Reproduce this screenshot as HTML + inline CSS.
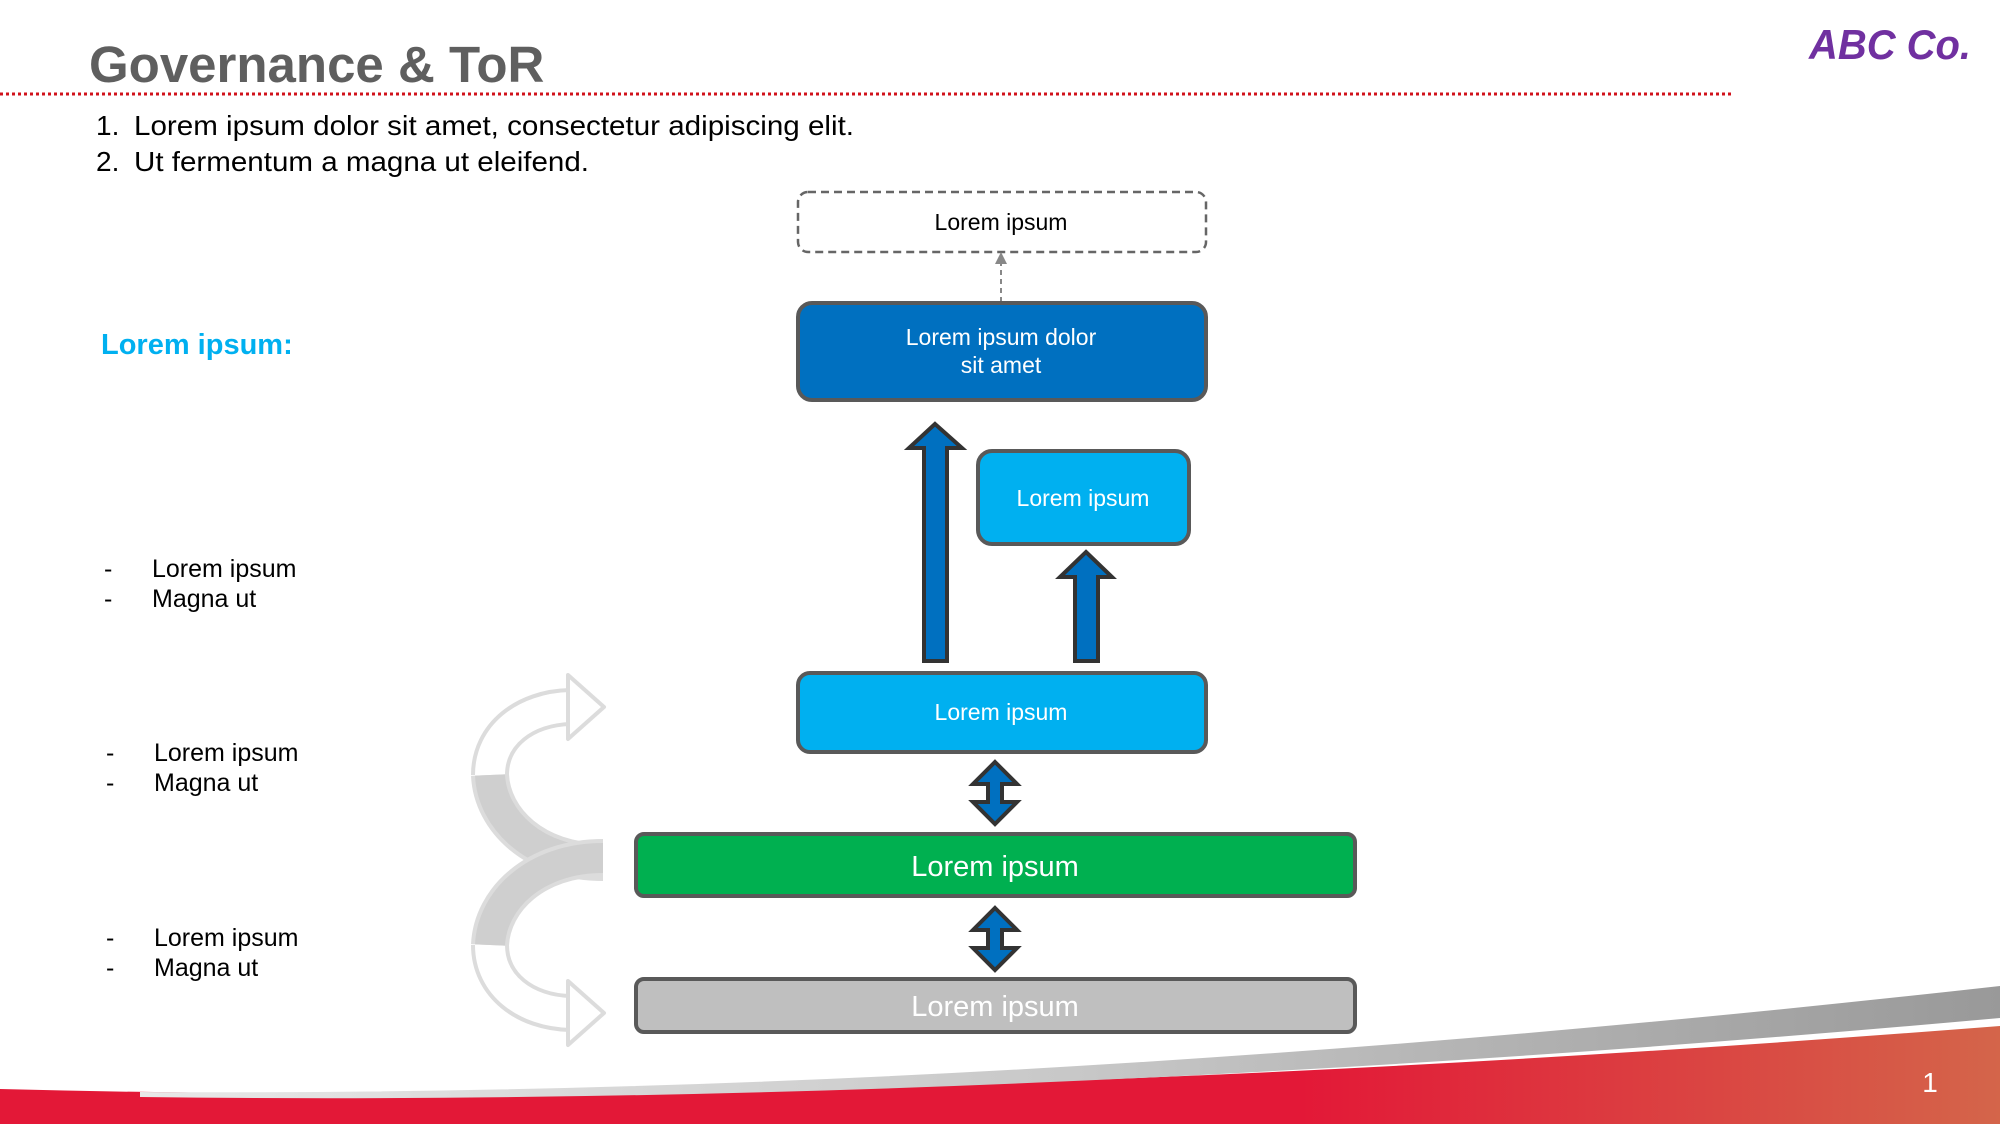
<!DOCTYPE html>
<html><head><meta charset="utf-8"><style>
html,body{margin:0;padding:0;background:#fff;}
svg{display:block;}
text{font-family:"Liberation Sans",Arial,sans-serif;}
</style></head><body>
<svg width="2000" height="1124" viewBox="0 0 2000 1124" xmlns="http://www.w3.org/2000/svg">
<defs>
<linearGradient id="rg" x1="0" x2="1" y1="0" y2="0">
<stop offset="0" stop-color="#e31837"/><stop offset="0.65" stop-color="#e31837"/><stop offset="1" stop-color="#d4654a"/>
</linearGradient>
<linearGradient id="gg" x1="0" x2="1" y1="0" y2="0">
<stop offset="0" stop-color="#e8e8e8"/><stop offset="0.5" stop-color="#c8c8c8"/><stop offset="1" stop-color="#999"/>
</linearGradient>
</defs>
<text x="89" y="82" font-size="51" font-weight="bold" fill="#5f5f5f">Governance &amp; ToR</text>
<line x1="0" y1="94" x2="1731" y2="94" stroke="#d0121b" stroke-width="3" stroke-dasharray="3,3"/>
<text x="1971" y="59" font-size="42" font-weight="bold" font-style="italic" fill="#7030a0" text-anchor="end" textLength="162" lengthAdjust="spacingAndGlyphs">ABC Co.</text>
<text x="96" y="135" font-size="28" fill="#000">1.</text>
<text x="134" y="135" font-size="28" fill="#000" textLength="720" lengthAdjust="spacingAndGlyphs">Lorem ipsum dolor sit amet, consectetur adipiscing elit.</text>
<text x="96" y="171" font-size="28" fill="#000">2.</text>
<text x="134" y="171" font-size="28" fill="#000" textLength="455" lengthAdjust="spacingAndGlyphs">Ut fermentum a magna ut eleifend.</text>
<text x="101" y="354" font-size="29" font-weight="bold" fill="#00b0f0">Lorem ipsum:</text>
<g font-size="25" fill="#000">
<text x="104" y="577">-</text><text x="152" y="577">Lorem ipsum</text>
<text x="104" y="607">-</text><text x="152" y="607">Magna ut</text>
<text x="106" y="761">-</text><text x="154" y="761">Lorem ipsum</text>
<text x="106" y="791">-</text><text x="154" y="791">Magna ut</text>
<text x="106" y="946">-</text><text x="154" y="946">Lorem ipsum</text>
<text x="106" y="976">-</text><text x="154" y="976">Magna ut</text>
</g>
<path d="M0,1089 Q900,1112 2000,1026 L2000,1124 L0,1124 Z" fill="url(#rg)"/>
<path d="M140,1092 Q1000,1098 2000,986 L2000,1018 Q1000,1108 140,1097 Z" fill="url(#gg)"/>
<text x="1930" y="1092" font-size="28" fill="#fff" text-anchor="middle">1</text>
<g fill="none" stroke-linecap="butt">
<path d="M490,775 C490,735 525,708 570,707" stroke="#dcdcdc" stroke-width="38"/>
<path d="M490,775 C490,735 525,708 571,707" stroke="#fff" stroke-width="30"/>
<path d="M490,945 C490,985 525,1012 570,1013" stroke="#dcdcdc" stroke-width="38"/>
<path d="M490,945 C490,985 525,1012 571,1013" stroke="#fff" stroke-width="30"/>
<path d="M603,862 C535,862 492,820 490,775" stroke="#dcdcdc" stroke-width="38"/>
<path d="M603,862 C535,862 492,820 490,775" stroke="#cfcfcf" stroke-width="30"/>
<path d="M603,858 C535,858 492,900 490,945" stroke="#dcdcdc" stroke-width="38"/>
<path d="M603,858 C535,858 492,900 490,945" stroke="#cfcfcf" stroke-width="30"/>
</g>
<polygon points="568,675 604,707 568,739" fill="#fff" stroke="#dcdcdc" stroke-width="4" stroke-linejoin="round"/>
<polygon points="568,981 604,1013 568,1045" fill="#fff" stroke="#dcdcdc" stroke-width="4" stroke-linejoin="round"/>
<rect x="798" y="192" width="408" height="60" rx="10" fill="#fff" stroke="#666" stroke-width="2.5" stroke-dasharray="8,5"/>
<text x="1001" y="230" font-size="23" fill="#000" text-anchor="middle">Lorem ipsum</text>
<line x1="1001" y1="302" x2="1001" y2="262" stroke="#888" stroke-width="2" stroke-dasharray="5,4"/>
<polygon points="995,264 1007,264 1001,252" fill="#888"/>
<rect x="798" y="303" width="408" height="97" rx="14" fill="#0070c0" stroke="#595959" stroke-width="4"/>
<text x="1001" y="345" font-size="23" fill="#fff" text-anchor="middle">Lorem ipsum dolor</text>
<text x="1001" y="373" font-size="23" fill="#fff" text-anchor="middle">sit amet</text>
<polygon points="935,424 962,448 947,448 947,661 924,661 924,448 909,448" fill="#0070c0" stroke="#333" stroke-width="4"/>
<polygon points="1086,552 1112,577 1098,577 1098,661 1075,661 1075,577 1060,577" fill="#0070c0" stroke="#333" stroke-width="4"/>
<rect x="978" y="451" width="211" height="93" rx="14" fill="#00b0f0" stroke="#595959" stroke-width="4"/>
<text x="1083" y="506" font-size="23" fill="#fff" text-anchor="middle">Lorem ipsum</text>
<rect x="798" y="673" width="408" height="79" rx="12" fill="#00b0f0" stroke="#595959" stroke-width="4"/>
<text x="1001" y="720" font-size="23" fill="#fff" text-anchor="middle">Lorem ipsum</text>
<polygon points="995,762 1017,784 1002,784 1002,802 1017,802 995,824 973,802 988,802 988,784 973,784" fill="#0070c0" stroke="#333" stroke-width="4"/>
<polygon points="995,908 1017,930 1002,930 1002,948 1017,948 995,970 973,948 988,948 988,930 973,930" fill="#0070c0" stroke="#333" stroke-width="4"/>
<rect x="636" y="834" width="719" height="62" rx="8" fill="#00b050" stroke="#595959" stroke-width="4"/>
<text x="995" y="876" font-size="29" fill="#fff" text-anchor="middle">Lorem ipsum</text>
<rect x="636" y="979" width="719" height="53" rx="8" fill="#bfbfbf" stroke="#595959" stroke-width="4"/>
<text x="995" y="1016" font-size="29" fill="#fff" text-anchor="middle">Lorem ipsum</text>
</svg>
</body></html>
